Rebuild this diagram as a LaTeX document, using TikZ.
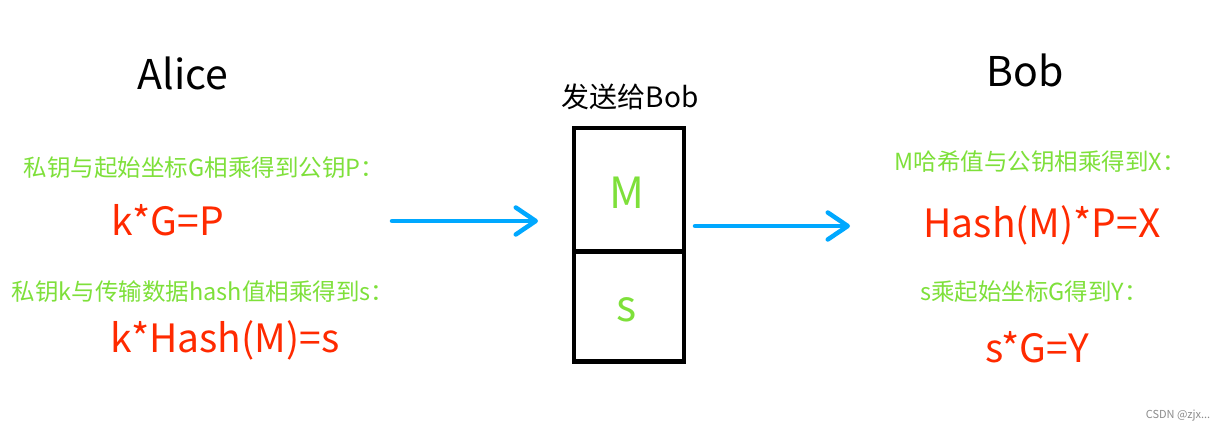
\documentclass[tikz,border=0pt]{standalone}
\usepackage{fontspec}
\setmainfont{Noto Sans CJK SC}
\usetikzlibrary{arrows.meta}
\definecolor{tgreen}{HTML}{7EE03A}
\definecolor{tred}{HTML}{FF2A00}
\definecolor{tblue}{HTML}{00A8FF}
\definecolor{wm}{HTML}{8C8C8C}
\tikzset{
  lbl/.style={inner sep=0pt, anchor=center},
  person/.style={lbl, font=\fontsize{41}{41}\selectfont},
  note/.style={lbl, text=tgreen, font=\fontsize{23.5}{23.5}\selectfont},
  formula/.style={lbl, text=tred, font=\fontsize{39}{39}\selectfont},
  cell/.style={draw=black, line width=4.5pt, minimum width=110pt, inner sep=0pt},
  celltext/.style={lbl, text=tgreen, font=\fontsize{43}{43}\selectfont},
  flow/.style={draw=tblue, line width=4.5pt, line cap=round, -{Straight Barb[length=20pt, width=27pt, round]}}
}
\begin{document}
\begin{tikzpicture}[x=1pt,y=-1pt]
\useasboundingbox (0,0) rectangle (1230,433);
\fill[white] (0,0) rectangle (1230,433);
% titles
\node[person] (alice) at (183,73) {Alice};
\node[person] (bob) at (1025,70) {Bob};
\node[lbl, font=\fontsize{28}{28}\selectfont] (send) at (630,97) {发送给Bob};
% box
\node[cell, minimum height=123pt] (m) at (629,189.5) {};
\node[cell, minimum height=110pt] (s) at (629,306.5) {};
\node[celltext] (mt) at (627,193) {M};
\node[celltext] (st) at (627,310) {s};
% left texts
\node[note] (a1) at (204,168) {私钥与起始坐标G相乘得到公钥P：};
\node[formula] (a2) at (168,220) {k*G=P};
\node[note] (a3) at (203,292) {私钥k与传输数据hash值相乘得到s：};
\node[formula] (a4) at (225,340) {k*Hash(M)=s};
% right texts
\node[note] (b1) at (1040,162) {M哈希值与公钥相乘得到X：};
\node[formula] (b2) at (1042,225) {Hash(M)*P=X};
\node[note] (b3) at (1034,292) {s乘起始坐标G得到Y：};
\node[formula] (b4) at (1037,347) {s*G=Y};
% arrows
\coordinate (l0) at (392,221);
\coordinate (l1) at (538,221);
\coordinate (r0) at (695,226);
\coordinate (r1) at (850,226);
\draw[flow] (l0) -- (l1);
\draw[flow] (r0) -- (r1);
% watermark
\node[lbl, text=wm, font=\fontsize{11}{11}\selectfont] (wmk) at (1178,416) {CSDN @zjx...};
\end{tikzpicture}
\end{document}
